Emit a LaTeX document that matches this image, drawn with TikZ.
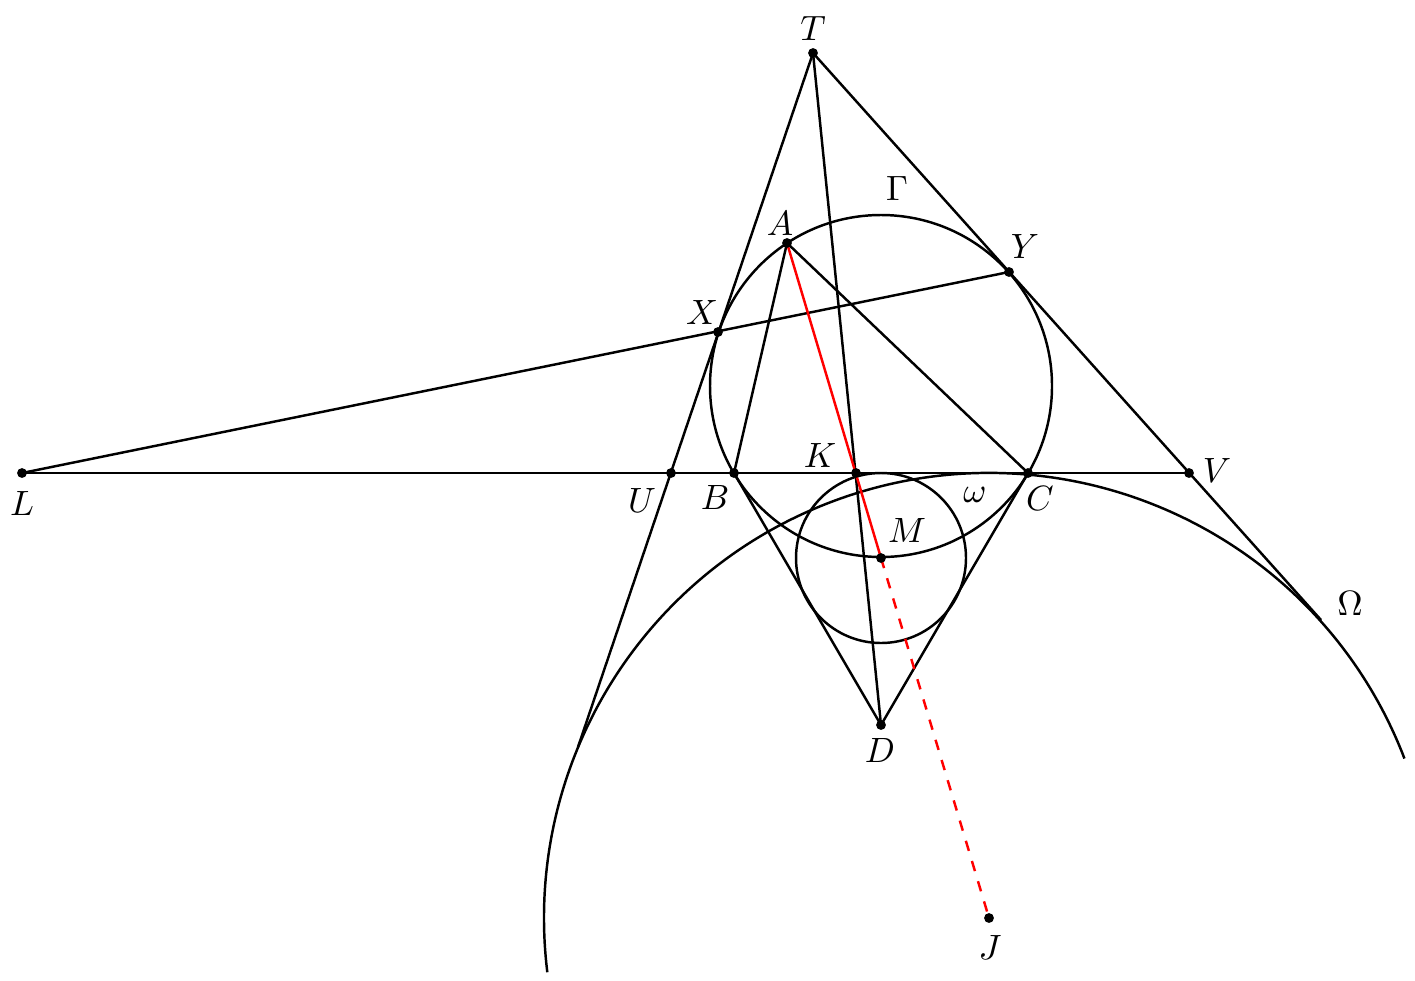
\documentclass[tikz,border=0pt]{standalone}
\usepackage{amsmath,amssymb}
\usetikzlibrary{positioning}

\begin{document}
\begin{tikzpicture}[line width=0.7pt, every node/.style={inner sep=1pt}]
\useasboundingbox (0,0) rectangle (14.15,9.8);
% Points
\coordinate (T) at (8.13,9.27);
\coordinate (A) at (7.87,7.37);
\coordinate (X) at (7.18,6.48);
\coordinate (Y) at (10.09,7.08);
\coordinate (L) at (0.22,5.07);
\coordinate (U) at (6.71,5.07);
\coordinate (B) at (7.34,5.07);
\coordinate (K) at (8.56,5.07);
\coordinate (C) at (10.28,5.07);
\coordinate (V) at (11.89,5.07);
\coordinate (M) at (8.81,4.22);
\coordinate (D) at (8.81,2.55);
\coordinate (J) at (9.89,0.62);
\coordinate (O) at (8.81,5.94);
\coordinate (P) at (5.78,2.33);
\coordinate (Q) at (13.21,3.60);

% Circles
\draw (O) circle (1.71);
\draw (M) circle (0.85);
\draw ([shift={(21:4.45)}]J) arc[start angle=21, end angle=187, radius=4.45];

% Lines
\draw (T) -- (P);
\draw (T) -- (Q);
\draw (T) -- (D);
\draw (L) -- (V);
\draw (L) -- (Y);
\draw (A) -- (B);
\draw (A) -- (C);
\draw (B) -- (D) -- (C);
\draw[red] (A) -- (M);
\draw[red, dashed] (M) -- (J);

% Dots
\fill (T) circle (1.4pt) (A) circle (1.4pt) (X) circle (1.4pt) (Y) circle (1.4pt)
      (L) circle (1.4pt) (U) circle (1.4pt) (B) circle (1.4pt) (K) circle (1.4pt)
      (C) circle (1.4pt) (V) circle (1.4pt) (M) circle (1.4pt) (D) circle (1.4pt)
      (J) circle (1.4pt);

% Labels
\node (lT) at (8.13,9.52) {$T$};
\node (lA) at (7.80,7.57) {$A$};
\node (lY) at (10.25,7.34) {$Y$};
\node (lX) at (7.02,6.68) {$X$};
\node (lGamma) at (8.97,7.92) {$\Gamma$};
\node (lL) at (0.22,4.77) {$L$};
\node (lU) at (6.42,4.80) {$U$};
\node (lB) at (7.15,4.83) {$B$};
\node (lK) at (8.20,5.25) {$K$};
\node (lC) at (10.40,4.82) {$C$};
\node (lV) at (12.17,5.10) {$V$};
\node (lM) at (9.07,4.50) {$M$};
\node (lomega) at (9.75,4.85) {$\omega$};
\node (lOmega) at (13.50,3.77) {$\Omega$};
\node (lD) at (8.80,2.30) {$D$};
\node (lJ) at (9.90,0.33) {$J$};
\end{tikzpicture}
\end{document}
